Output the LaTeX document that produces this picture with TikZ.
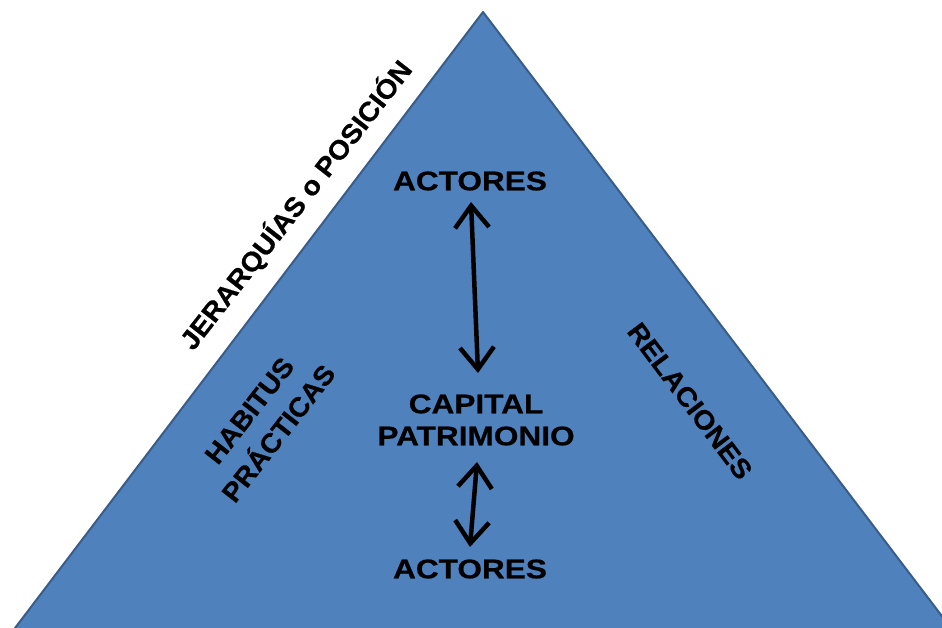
\documentclass[tikz,border=0pt]{standalone}
\usepackage{fontspec}
\setmainfont{Liberation Sans}[BoldFeatures={FakeBold=0.6}]
\usetikzlibrary{arrows.meta}
\definecolor{triblue}{HTML}{4F81BD}
\definecolor{triedge}{HTML}{385D8A}
\begin{document}
\begin{tikzpicture}[x=1pt,y=-1pt,
  lbl/.style={font=\fontsize{27}{32}\selectfont\bfseries, text=black, inner sep=0pt, align=center},
  hlbl/.style={lbl, xscale=1.17},
  dbl/.style={line width=4.5pt, {Straight Barb[length=22pt,width=34pt]}-{Straight Barb[length=22pt,width=34pt]}}
]
\useasboundingbox (0,0) rectangle (942,627);
\begin{scope}
\clip (0,0) rectangle (942,627);
\fill[black!25, opacity=0.5] (484,15) -- (16,633) -- (955,633) -- cycle;
\draw[fill=triblue, draw=triedge, line width=2pt, line join=round] (483,12) coordinate (apex) -- (12,632) -- (954,632) -- cycle;
\end{scope}

\node[hlbl] (act1) at (470,181) {ACTORES};
\node[hlbl] (cap) at (476,420) {CAPITAL\\PATRIMONIO};
\node[hlbl] (act2) at (470,569) {ACTORES};

\coordinate (a1s) at (471,202);
\coordinate (a1e) at (478,373);
\coordinate (a2s) at (477,462);
\coordinate (a2e) at (470,547);
\draw[dbl] (a1s) -- (a1e);
\draw[dbl] (a2s) -- (a2e);

\node[lbl, rotate=52, xscale=1.05] (jer) at (296,205) {JERARQUÍAS o POSICIÓN};
\node[lbl, rotate=52, xscale=1.05, font=\fontsize{27}{37}\selectfont\bfseries] (hab) at (264,422) {HABITUS\\PRÁCTICAS};
\node[lbl, rotate=-53, xscale=1.06] (rel) at (690,401) {RELACIONES};
\end{tikzpicture}
\end{document}
